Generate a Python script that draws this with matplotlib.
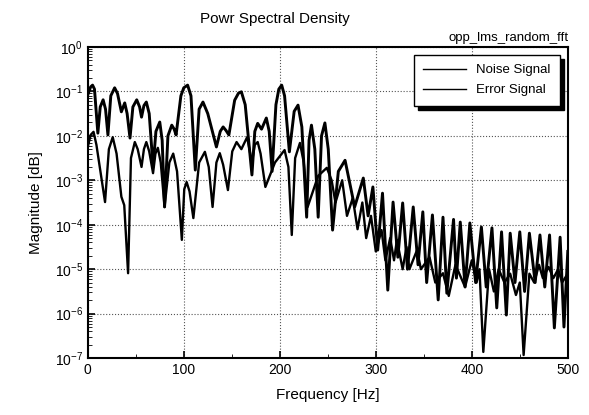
import numpy as np
import matplotlib.pyplot as plt
from matplotlib.ticker import LogLocator, NullFormatter, MultipleLocator

plt.rcParams['font.family'] = ['Liberation Sans', 'DejaVu Sans']

# points: frequency [Hz], log10(magnitude)
noise_freq = [0, 3, 5, 7, 10.5, 13, 16, 18.5, 21, 24, 28, 31, 35, 38.5, 41, 44,
              47, 51, 54, 56, 58.5, 61, 64, 68, 71, 75, 77.5, 80, 83.5, 87.5,
              90, 92, 97, 100, 104, 107.5, 112, 116, 120, 125, 134, 138, 141,
              144, 147, 153, 157, 160, 164, 171, 174, 177, 181, 186, 189, 192,
              196, 199, 202, 205, 210, 215, 219, 223, 228, 230.5, 233, 236.5,
              240, 243.5, 247, 250.5, 255, 261, 268, 278, 287, 292, 297,
              302, 307, 312.5, 318, 323, 328, 333, 339, 344, 349, 353, 359, 365,
              370, 374, 381, 384, 388, 393, 398, 404, 410, 415, 421, 426, 431,
              436, 440, 445, 450, 455, 460, 466, 471, 476, 481, 486, 492, 496, 500]
noise_log = [-1.08, -0.9, -0.86, -0.95, -1.94, -1.35, -1.19, -1.4, -1.98, -1.1,
             -0.92, -1.05, -1.46, -1.26, -1.5, -2.05,
             -1.35, -1.19, -1.35, -1.58, -1.32, -1.24, -1.5, -2.7, -1.9, -1.69,
             -2.1, -3.6, -2.0, -1.76,
             -1.85, -1.98, -1.1, -0.92, -0.86, -1.1, -2.77, -1.4, -1.24, -1.5,
             -2.25, -1.9, -1.8,
             -1.88, -1.98, -1.2, -1.04, -1.01, -1.3, -2.88, -1.9, -1.72, -1.85,
             -1.6, -1.9, -2.8,
             -1.3, -0.95, -0.86, -1.1, -2.36, -1.45, -1.31, -1.8, -3.83, -2.1,
             -1.76, -2.3,
             -3.83, -2.0, -1.71, -2.3, -4.12, -2.8, -2.55, -3.6, -2.95, -3.8, -3.15,
             -4.57, -3.29, -5.47, -3.49, -4.73, -3.51, -5.0, -3.6, -4.9, -3.71,
             -5.3, -3.78, -5.69,
             -3.83, -5.54, -3.88, -5.2, -3.94, -5.4, -3.96, -5.3, -4.05, -5.4,
             -4.07, -5.87, -4.16,
             -6.03, -4.19, -5.3, -4.16, -5.5, -4.19, -5.3, -4.23, -5.4, -4.23,
             -6.32, -4.28, -6.3, -4.6]

error_freq = [0, 3, 6, 9, 18, 22, 26, 30, 35, 38, 42, 45, 49, 52, 56, 58.5, 61,
              64, 68, 70.5, 73, 76, 80, 85, 89, 93,
              98, 100.5, 103, 106, 110, 116, 122, 126, 130, 134, 137.5, 141, 146,
              150.5, 155, 160, 166, 171, 174, 177, 180, 185,
              195, 205, 209, 212.5, 216, 221, 225, 229, 240, 249, 254, 258,
              265, 270, 276, 281, 286, 290,
              295, 300, 306, 310, 315, 319, 322, 328, 332, 335, 343, 347, 356,
              362, 370, 376, 383, 393, 400, 405, 408, 412, 418, 423, 428, 434,
              440, 446, 450, 454, 460, 465, 470, 474, 480, 485, 490, 494, 500]
error_log = [-2.25, -1.98, -1.91, -2.2, -3.49, -2.3, -2.03, -2.4, -3.37, -3.56,
             -5.09, -2.5, -2.14, -2.3, -2.7, -2.3, -2.14,
             -2.35, -2.84, -2.4, -2.27, -2.6, -3.6, -2.6, -2.4, -2.8,
             -4.34, -3.2, -3.04, -3.25, -3.85, -2.6, -2.36, -2.7, -3.6, -2.6,
             -2.39, -2.65, -3.22,
             -2.35, -2.14, -2.3, -2.03, -2.6, -2.2, -2.14, -2.4, -3.15,
             -2.6, -2.32, -2.7, -4.23, -2.5, -2.16, -2.6, -3.6, -2.9, -2.72,
             -3.0, -3.5,
             -3.0, -3.8, -3.4, -4.1, -3.5, -4.3,
             -3.8, -4.6, -4.12, -4.8, -4.3, -4.8, -4.34, -5.0, -4.5, -5.0,
             -4.57, -5.0, -4.73,
             -5.3, -5.09, -5.6, -4.9, -5.4, -4.8, -5.3, -5.0, -6.86, -5.0,
             -5.5, -5.0, -5.3,
             -5.1, -5.58, -5.3, -6.93, -5.1, -5.3, -4.9, -5.2, -4.95, -5.2,
             -5.0, -5.3, -5.1]

noise_mag = 10.0 ** np.array(noise_log)
error_mag = 10.0 ** np.array(error_log)

fig = plt.figure(figsize=(5.89, 4.15), dpi=100)
ax = fig.add_axes([0.149, 0.137, 0.815, 0.750])

ax.plot(noise_freq, noise_mag, color='black', lw=2.1, label='Noise Signal')
ax.plot(error_freq, error_mag, color='black', lw=1.7, label='Error Signal')

ax.set_yscale('log')
ax.set_xlim(0, 500)
ax.set_ylim(1e-7, 1)
ax.xaxis.set_major_locator(MultipleLocator(100))
ax.xaxis.set_minor_locator(MultipleLocator(50))
ax.yaxis.set_major_locator(LogLocator(base=10, numticks=10))
ax.yaxis.set_minor_locator(LogLocator(base=10, subs=np.arange(2, 10), numticks=100))
ax.yaxis.set_minor_formatter(NullFormatter())
ax.tick_params(which='both', direction='in', labelsize=10)
ax.tick_params(which='major', length=5, width=1.2)
ax.tick_params(which='minor', length=3)
ax.grid(True, which='major', linestyle=':', color='#555555', linewidth=0.8)
for s in ax.spines.values():
    s.set_linewidth(1.5)

ax.set_xlabel('Frequency [Hz]', fontsize=11, labelpad=8)
ax.set_ylabel('Magnitude [dB]', fontsize=11, labelpad=8)
fig.text(0.467, 0.955, 'Powr Spectral Density', ha='center', va='center', fontsize=11)
fig.text(0.965, 0.908, 'opp_lms_random_fft', ha='right', va='center', fontsize=9.5)

leg = ax.legend(loc='upper right', fontsize=9.5, frameon=True, fancybox=False,
                shadow={'color': 'black', 'alpha': 1.0, 'ox': 3, 'oy': -3},
                borderaxespad=0.6, handlelength=3.2, labelspacing=0.6, borderpad=0.7)
leg.get_frame().set_edgecolor('black')
leg.get_frame().set_linewidth(1.0)
for h in leg.get_lines():
    h.set_linewidth(1.0)

fig.savefig('out.png', dpi=100)
